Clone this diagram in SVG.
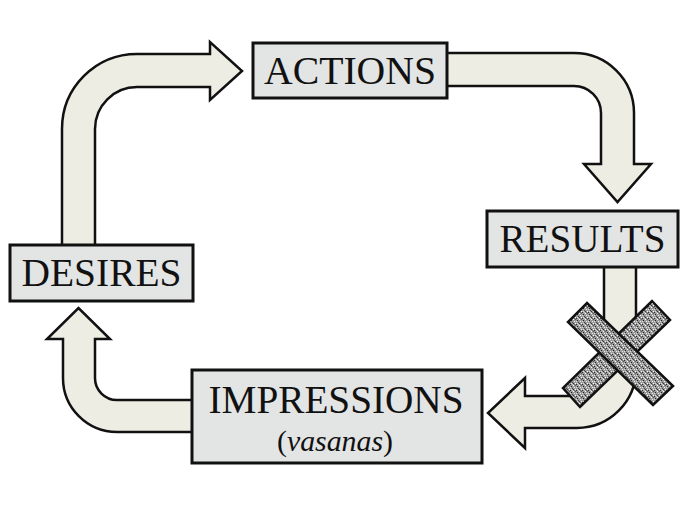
<svg xmlns="http://www.w3.org/2000/svg" width="685" height="513" viewBox="0 0 685 513">
<defs>
<pattern id="stip" width="6" height="6" patternUnits="userSpaceOnUse">
<rect width="6" height="6" fill="#9a9a9a"/>
<rect x="0" y="0" width="1" height="1" fill="#333"/>
<rect x="3" y="1" width="1" height="1" fill="#fff"/>
<rect x="1" y="2" width="1" height="1" fill="#222"/>
<rect x="4" y="3" width="1" height="1" fill="#eee"/>
<rect x="2" y="4" width="1" height="1" fill="#444"/>
<rect x="5" y="5" width="1" height="1" fill="#fff"/>
<rect x="0" y="3" width="1" height="1" fill="#ddd"/>
<rect x="5" y="1" width="1" height="1" fill="#555"/>
<rect x="3" y="5" width="1" height="1" fill="#333"/>
<rect x="2" y="0" width="1" height="1" fill="#ccc"/>
<rect x="4" y="0" width="1" height="1" fill="#666"/>
<rect x="1" y="5" width="1" height="1" fill="#ddd"/>
</pattern>
</defs>
<style>
.arrow{fill:#EDEDE3;stroke:#111;stroke-width:2.5;stroke-linejoin:miter}
.box{fill:#E3E4E4;stroke:#111;stroke-width:3}
.lbl{font-size:39px;fill:#111;text-anchor:middle}
.sub{font-size:30px;fill:#111;text-anchor:middle}
.band{fill:url(#stip);stroke:#111;stroke-width:2.5}
</style>
<rect width="685" height="513" fill="#fff"/>
<g id="connectors">
<path class="arrow" d="M62,247 L62,129 A75,75 0 0 1 137,54 L210,54 L210,42 L242,71 L210,100 L210,87 L137,87 A42,42 0 0 0 95,129 L95,247 Z"/>
<path class="arrow" d="M445,53 L574,53 A60,60 0 0 1 634,113 L634,164 L651,164 L617.5,202 L584,164 L601,164 L601,113 A27,27 0 0 0 574,86 L445,86 Z"/>
<path class="arrow" d="M604,265 L604,369 A27,27 0 0 1 577,396 L525,396 L525,378 L488,413 L525,448 L525,428 L577,428 A59,59 0 0 0 636,369 L636,265 Z"/>
<path class="arrow" d="M194,400 L117,400 A22,22 0 0 1 95,378 L95,339 L110,339 L78.5,308 L47,339 L63,339 L63,378 A54,54 0 0 0 117,432 L194,432 Z"/>
<g id="cross">
<polygon class="band" points="652,301 670,320 580,407 563,388"/>
<polygon class="band" points="587,303 673,386 653,405 568,322"/>
</g>
</g>
<g id="actions">
<rect class="box" x="253" y="43" width="194" height="55"/>
<text class="lbl" x="350" y="84" font-family="'Liberation Serif', Tinos, 'Nimbus Roman', 'Nimbus Roman No9 L', FreeSerif, 'Noto Serif', 'DejaVu Serif', 'Times New Roman', Times, Georgia, serif" textLength="172" lengthAdjust="spacingAndGlyphs">ACTIONS</text>
</g>
<g id="results">
<rect class="box" x="487" y="211" width="191" height="56"/>
<text class="lbl" x="582.5" y="252" font-family="'Liberation Serif', Tinos, 'Nimbus Roman', 'Nimbus Roman No9 L', FreeSerif, 'Noto Serif', 'DejaVu Serif', 'Times New Roman', Times, Georgia, serif" textLength="166" lengthAdjust="spacingAndGlyphs">RESULTS</text>
</g>
<g id="desires">
<rect class="box" x="10" y="245" width="183" height="56"/>
<text class="lbl" x="101.5" y="286" font-family="'Liberation Serif', Tinos, 'Nimbus Roman', 'Nimbus Roman No9 L', FreeSerif, 'Noto Serif', 'DejaVu Serif', 'Times New Roman', Times, Georgia, serif" textLength="160" lengthAdjust="spacingAndGlyphs">DESIRES</text>
</g>
<g id="impressions">
<rect class="box" x="192" y="370" width="290" height="93"/>
<text class="lbl" x="336" y="413" font-family="'Liberation Serif', Tinos, 'Nimbus Roman', 'Nimbus Roman No9 L', FreeSerif, 'Noto Serif', 'DejaVu Serif', 'Times New Roman', Times, Georgia, serif" textLength="255" lengthAdjust="spacingAndGlyphs">IMPRESSIONS</text>
<text class="sub" x="335" y="451" font-family="'Liberation Serif', Tinos, 'Nimbus Roman', 'Nimbus Roman No9 L', FreeSerif, 'Noto Serif', 'DejaVu Serif', 'Times New Roman', Times, Georgia, serif" textLength="116" lengthAdjust="spacingAndGlyphs">(<tspan font-style="italic">vasanas</tspan>)</text>
</g>
</svg>
